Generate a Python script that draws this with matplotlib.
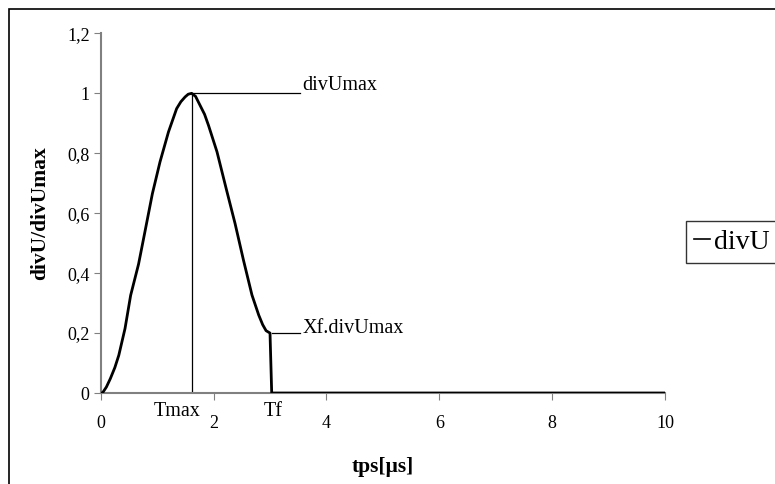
import matplotlib
matplotlib.use("Agg")
import matplotlib.pyplot as plt
from matplotlib.patches import Rectangle

plt.rcParams['font.family'] = ['Liberation Serif', 'DejaVu Serif']

# values
tps = [0, 0.03, 0.1, 0.17, 0.25, 0.32, 0.43, 0.53, 0.67, 0.785, 0.915, 1.05,
       1.2, 1.345, 1.42, 1.495, 1.55, 1.61, 1.68, 1.76, 1.84, 1.91, 2.06,
       2.23, 2.38, 2.53, 2.68, 2.80, 2.87, 2.93, 3.0, 3.03, 10]
divU = [0, 0, 0.02, 0.048, 0.085, 0.126, 0.215, 0.326, 0.43, 0.54, 0.665,
        0.771, 0.871, 0.949, 0.972, 0.988, 0.997, 1.0, 0.99, 0.96, 0.93,
        0.893, 0.805, 0.677, 0.566, 0.443, 0.327, 0.26, 0.228, 0.208, 0.2,
        0, 0]
t_max = 1.61
t_f = 3.03
xf = 0.2
x_ticks = [0, 2, 4, 6, 8, 10]
y_ticks = [0, 0.2, 0.4, 0.6, 0.8, 1, 1.2]
y_labels = ['0', '0,2', '0,4', '0,6', '0,8', '1', '1,2']

fig = plt.figure(figsize=(7.75, 4.84), dpi=100)
ax = fig.add_axes([0.130, 0.188, 0.728, 0.743])

gray = '#808080'
ax.plot(tps, divU, color='black', lw=2, label='divU', zorder=3,
        solid_joinstyle='round')

# Tmax marker and leader lines
ax.plot([t_max, t_max], [0, 1.0], color='black', lw=0.9)
ax.plot([t_max, 3.53], [1.0, 1.0], color='black', lw=0.9)
ax.plot([t_f, 3.53], [xf, xf], color='black', lw=0.9)
ax.text(3.58, 1.025, 'divUmax', fontsize=14.5, va='center', ha='left')
ax.text(3.58, 0.215, 'Xf.divUmax', fontsize=14.5, va='center', ha='left')
ax.annotate('Tmax', xy=(1.36, 0), xytext=(0, -13), textcoords='offset points',
            fontsize=14.5, ha='center', va='center', annotation_clip=False)
ax.annotate('Tf', xy=(3.06, 0), xytext=(0, -13), textcoords='offset points',
            fontsize=14.5, ha='center', va='center', annotation_clip=False)

ax.set_xlim(0, 10)
ax.set_ylim(0, 1.2)
ax.set_xticks(x_ticks)
ax.set_xticklabels([str(v) for v in x_ticks])
ax.set_yticks(y_ticks)
ax.set_yticklabels(y_labels)
ax.tick_params(axis='both', direction='out', length=5, color=gray, labelsize=13)
ax.tick_params(axis='x', pad=11)
ax.tick_params(axis='y', pad=3)
for s in ['top', 'right']:
    ax.spines[s].set_visible(False)
for s in ['left', 'bottom']:
    ax.spines[s].set_color(gray)
    ax.spines[s].set_linewidth(1.5)

ax.set_xlabel('tps[µs]', fontsize=15.5, fontweight='bold', labelpad=18)
ax.set_ylabel('divU/divUmax', fontsize=15.5, fontweight='bold', labelpad=12)

leg = ax.legend(loc='upper left', bbox_to_anchor=(686 / 775, 1 - 221 / 484),
                bbox_transform=fig.transFigure, fontsize=20, handlelength=0.55,
                handletextpad=0.15, borderpad=0.3, borderaxespad=0,
                fancybox=False, frameon=True)
leg.get_frame().set_edgecolor('black')
leg.get_frame().set_linewidth(1)
for h in leg.get_lines():
    h.set_linewidth(1.2)

# outer chart border (runs off the right and bottom edges)
fig.patches.append(Rectangle((9 / 775, -0.2), 2, 1.2 - 9 / 484,
                             transform=fig.transFigure, fill=False,
                             edgecolor='black', lw=1.2))

fig.savefig('out.png', dpi=100)
